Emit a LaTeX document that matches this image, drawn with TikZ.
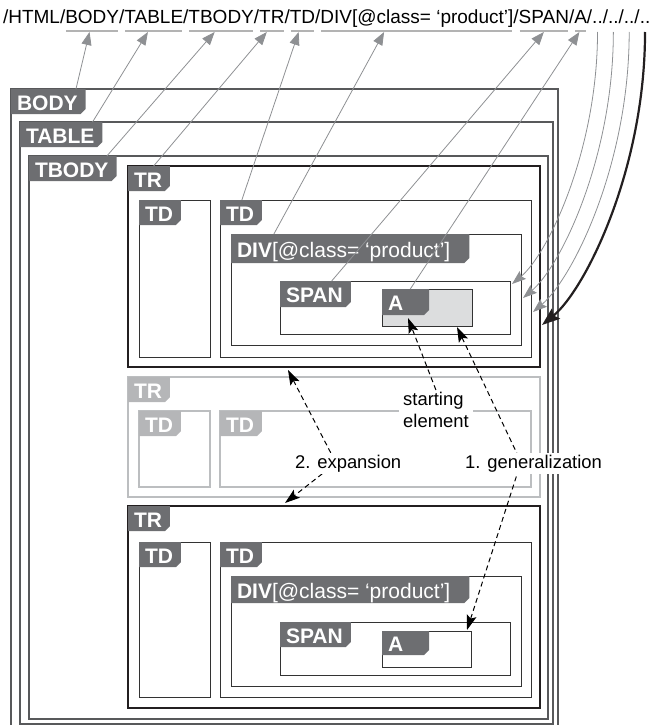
\documentclass[tikz,border=0pt]{standalone}
\usepackage{fontspec}
\setmainfont{Liberation Sans}
\usetikzlibrary{arrows.meta,calc}
\definecolor{tagfill}{HTML}{6D6E71}
\definecolor{taglight}{HTML}{B5B6B8}
\definecolor{boxline}{HTML}{58595B}
\definecolor{trline}{HTML}{231F20}
\definecolor{paleline}{HTML}{BCBEC0}
\definecolor{cellline}{HTML}{333333}
\definecolor{arrowgray}{HTML}{8E9093}
\definecolor{dashgray}{HTML}{B3B3B3}
\definecolor{agray}{HTML}{DCDDDE}
\newcommand\tagfont{\fontsize{21pt}{21pt}\selectfont\bfseries}
\newcommand\pathfont{\fontsize{19pt}{20pt}\selectfont}
\newcommand\notefont{\fontsize{18.4pt}{22pt}\selectfont}
\begin{document}
\begin{tikzpicture}[x=1pt,y=-1pt,
  outerbox/.style={draw=boxline, line width=1.3pt, anchor=north west, inner sep=0pt, outer sep=0pt},
  trbox/.style={draw=trline, line width=2.6pt, anchor=north west, inner sep=0pt, outer sep=0pt},
  palebox/.style={draw=paleline, line width=1.2pt, anchor=north west, inner sep=0pt, outer sep=0pt},
  cellbox/.style={draw=cellline, line width=1pt, anchor=north west, inner sep=0pt, outer sep=0pt},
  tagcol/.initial=tagfill,
  tag/.style={anchor=north west, inner sep=0pt, outer sep=0pt, minimum height=25pt,
    text height=17pt, text depth=0pt, text=white, font=\tagfont,
    execute at begin node={\hspace*{6pt}}, execute at end node={\hspace*{#1}},
    path picture={\fill[fill=\pgfkeysvalueof{/tikz/tagcol}]
      (path picture bounding box.north west) -- (path picture bounding box.north east)
      -- ([yshift=5pt]path picture bounding box.south east)
      -- ([xshift=-5pt]path picture bounding box.south east)
      -- (path picture bounding box.south west) -- cycle;}},
  tag/.default=8pt,
  pathtxt/.style={inner sep=0pt, outer sep=0pt, anchor=base west, font=\pathfont},
  underline/.style={draw=dashgray, line width=1.3pt},
  ptr/.style={draw=arrowgray, line width=0.8pt, -{Triangle[length=13pt,width=10pt]}},
  ptrarc/.style={draw=arrowgray, line width=0.8pt, -{Stealth[length=14pt,width=10pt,inset=2pt]}},
  blackarc/.style={draw=trline, line width=2.2pt, -{Stealth[length=18pt,width=13pt,inset=3pt]}},
  dasharrow/.style={draw=black, line width=1pt, dash pattern=on 5pt off 3.5pt,
    {Stealth[length=15pt,width=10pt,inset=3pt]}-{Stealth[length=15pt,width=10pt,inset=3pt]}},
  note/.style={font=\notefont, fill=white, inner xsep=3pt, inner ysep=2pt}
]
\useasboundingbox (0,0) rectangle (652,725);
\clip (0,0) rectangle (652,725);

% ---------- boxes ----------
\node[outerbox, minimum width=547pt, minimum height=660pt] (body) at (11,89) {};
\node[outerbox, minimum width=533pt, minimum height=602pt] (table) at (20,122) {};
\node[outerbox, minimum width=519pt, minimum height=563pt] (tbody) at (29,156) {};

\node[trbox, minimum width=412pt, minimum height=201pt] (tr1) at (128,166) {};
\node[cellbox, minimum width=71pt, minimum height=157pt] (td1a) at (139,200) {};
\node[cellbox, minimum width=311pt, minimum height=157pt] (td1b) at (220,200) {};
\node[cellbox, minimum width=290pt, minimum height=111pt] (div1) at (231,234) {};
\node[cellbox, minimum width=230pt, minimum height=53pt] (span1) at (280,281) {};
\node[cellbox, fill=agray, minimum width=90pt, minimum height=37pt] (a1) at (382,289) {};

\node[palebox, minimum width=412pt, minimum height=120pt] (tr2) at (128,377) {};
\node[palebox, minimum width=71pt, minimum height=76pt] (td2a) at (139,411) {};
\node[palebox, minimum width=311pt, minimum height=76pt] (td2b) at (220,411) {};

\node[trbox, minimum width=412pt, minimum height=202pt] (tr3) at (128,506) {};
\node[cellbox, minimum width=71pt, minimum height=155pt] (td3a) at (139,542) {};
\node[cellbox, minimum width=311pt, minimum height=155pt] (td3b) at (220,542) {};
\node[cellbox, minimum width=290pt, minimum height=110pt] (div3) at (231,576) {};
\node[cellbox, minimum width=230pt, minimum height=53pt] (span3) at (280,622) {};
\node[cellbox, minimum width=89pt, minimum height=36pt] (a3) at (382,631) {};

% ---------- labels ----------
\node[tag] (lbody) at (body.north west) {BODY};
\node[tag] (ltable) at (table.north west) {TABLE};
\node[tag] (ltbody) at (tbody.north west) {TBODY};
\node[tag] (ltr1) at (tr1.north west) {TR};
\node[tag] (ltd1a) at (td1a.north west) {TD};
\node[tag] (ltd1b) at (td1b.north west) {TD};
\node[tag=19pt, minimum height=29pt] (ldiv1) at (div1.north west) {DIV\mdseries[@class= ‘product’]};
\node[tag, minimum height=26pt] (lspan1) at (span1.north west) {SPAN};
\node[tag=26pt, minimum height=26pt] (la1) at (a1.north west) {A};

\node[tag, tagcol=taglight] (ltr2) at (tr2.north west) {TR};
\node[tag, tagcol=taglight] (ltd2a) at (td2a.north west) {TD};
\node[tag, tagcol=taglight] (ltd2b) at (td2b.north west) {TD};

\node[tag] (ltr3) at (tr3.north west) {TR};
\node[tag] (ltd3a) at (td3a.north west) {TD};
\node[tag] (ltd3b) at (td3b.north west) {TD};
\node[tag=19pt, minimum height=27pt] (ldiv3) at (div3.north west) {DIV\mdseries[@class= ‘product’]};
\node[tag] (lspan3) at (span3.north west) {SPAN};
\node[tag=26pt, minimum height=24pt] (la3) at (a3.north west) {A};

% ---------- XPath text ----------
\node[pathtxt] (p0) at (3,24) {/HTML/};
\node[pathtxt] (pbody) at (p0.base east) {BODY};
\node[pathtxt] (s1) at (pbody.base east) {/};
\node[pathtxt] (ptable) at (s1.base east) {TABLE};
\node[pathtxt] (s2) at (ptable.base east) {/};
\node[pathtxt] (ptbody) at (s2.base east) {TBODY};
\node[pathtxt] (s3) at (ptbody.base east) {/};
\node[pathtxt] (ptr) at (s3.base east) {TR};
\node[pathtxt] (s4) at (ptr.base east) {/};
\node[pathtxt] (ptd) at (s4.base east) {TD};
\node[pathtxt] (s5) at (ptd.base east) {/};
\node[pathtxt] (pdiv) at (s5.base east) {DIV[@class= ‘product’]};
\node[pathtxt] (s6) at (pdiv.base east) {/};
\node[pathtxt] (pspan) at (s6.base east) {SPAN};
\node[pathtxt] (s7) at (pspan.base east) {/};
\node[pathtxt] (pa) at (s7.base east) {A};
\node[pathtxt] (s8) at (pa.base east) {/};
\node[pathtxt] (dd1) at (s8.base east) {..};
\node[pathtxt] (s9) at (dd1.base east) {/};
\node[pathtxt] (dd2) at (s9.base east) {..};
\node[pathtxt] (s10) at (dd2.base east) {/};
\node[pathtxt] (dd3) at (s10.base east) {..};
\node[pathtxt] (s11) at (dd3.base east) {/};
\node[pathtxt] (dd4) at (s11.base east) {..};

% underlines
\foreach \n in {pbody,ptable,ptbody,ptr,ptd,pdiv,pspan,pa}
  \draw[underline] ($(\n.base west)+(1,7)$) -- ($(\n.base east)+(-1,7)$);

% ---------- pointers from labels to XPath steps ----------
\draw[ptr] ($(lbody.north west)!0.87!(lbody.north east)$) -- ($(pbody.base west)!0.45!(pbody.base east)+(0,8)$);
\draw[ptr] ($(ltable.north west)!0.88!(ltable.north east)$) -- ($(ptable.base west)!0.4!(ptable.base east)+(0,8)$);
\draw[ptr] ($(ltbody.north west)!0.89!(ltbody.north east)$) -- ($(ptbody.base west)!0.4!(ptbody.base east)+(0,8)$);
\draw[ptr] ($(ltr1.north west)!0.61!(ltr1.north east)$) -- ($(ptr.base west)!0.3!(ptr.base east)+(0,8)$);
\draw[ptr] ($(ltd1b.north west)!0.52!(ltd1b.north east)$) -- ($(ptd.base west)!0.35!(ptd.base east)+(0,8)$);
\draw[ptr] ($(ldiv1.north west)!0.18!(ldiv1.north east)$) -- ($(pdiv.base west)!0.33!(pdiv.base east)+(0,8)$);
\draw[ptr] ($(lspan1.north west)!0.73!(lspan1.north east)$) -- ($(pspan.base west)!0.5!(pspan.base east)+(0,8)$);
\draw[ptr] ($(la1.north west)!0.6!(la1.north east)$) -- ($(pa.base west)!0.4!(pa.base east)+(0,8)$);

% ---------- parent steps (..) ----------
\coordinate (u1) at ($(dd1.base)+(0,8)$);
\coordinate (u2) at ($(dd2.base)+(0,8)$);
\coordinate (u3) at ($(dd3.base)+(0,8)$);
\coordinate (u4) at ($(dd4.base)+(0,8)$);
\coordinate (e1) at ($(span1.north east)+(2,3)$);
\coordinate (e2) at ($(div1.north east)+(2,64)$);
\coordinate (e3) at ($(td1b.north east)+(2,112)$);
\coordinate (e4) at ($(tr1.north east)+(2,159)$);
\draw[ptrarc] (u1) .. controls ($(u1)+(0,118)$) and ($(e1)+(36,-30)$) .. (e1);
\draw[ptrarc] (u2) .. controls ($(u2)+(0,125)$) and ($(e2)+(38,-32)$) .. (e2);
\draw[ptrarc] (u3) .. controls ($(u3)+(0,132)$) and ($(e3)+(40,-34)$) .. (e3);
\draw[blackarc] (u4) .. controls ($(u4)+(0,138)$) and ($(e4)+(43,-35)$) .. (e4);

% ---------- dashed arrows ----------
\coordinate (a1s) at ($(a1.south west)+(26,-8)$);
\coordinate (a1g) at ($(a1.south west)+(75,1)$);
\coordinate (a3g) at ($(a3.north west)+(85,-1)$);
\coordinate (tr1x) at ($(tr1.south west)+(160,3)$);
\coordinate (tr3x) at ($(tr3.north west)+(157,-3)$);
\coordinate (expbend) at (336,463);
\coordinate (genbend) at (521,462);

\node[note, align=left, anchor=north west, inner xsep=4pt] (start) at (399,390) {starting\\element};
\draw[dasharrow, {}-{Stealth[length=15pt,width=10pt,inset=3pt]}] (start.north) -- (a1s);
\draw[dasharrow] (tr1x) -- (expbend) -- (tr3x);
\draw[dasharrow] (a1g) -- (genbend) -- (a3g);
\node[note, anchor=base west] (exp) at (292,468) {2. expansion};
\node[note, anchor=base west] (gen) at (462,468) {1. generalization};
\end{tikzpicture}
\end{document}
